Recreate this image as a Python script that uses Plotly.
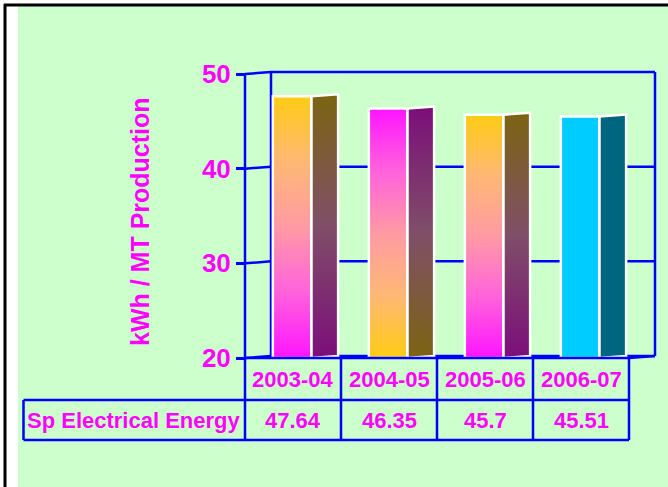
import plotly.graph_objects as go

# ---- data -------------------------------------------------------------
years = ["2003-04", "2004-05", "2005-06", "2006-07"]
energy = [47.64, 46.35, 45.7, 45.51]
row_label = "Sp Electrical Energy"
y_title = "kWh / MT Production"
y_ticks = [20, 30, 40, 50]

# ---- colours ----------------------------------------------------------
MAGENTA = "#FF00FF"
BLUE = "#0000FF"
GREEN_BG = "#CCFFCC"
FONT = "Liberation Sans, Arial, sans-serif"

# vertical gradients, listed bottom -> top
warm_up = [[0, "#FF14FF"], [0.25, "#FF62DC"], [0.5, "#FF9AA4"], [0.75, "#FFB874"], [1, "#FFCC14"]]
warm_down = [[1 - p, c] for p, c in reversed(warm_up)]
side_up = [[0, "#7C0E7A"], [0.5, "#7F4E68"], [1, "#7C6412"]]
side_down = [[1 - p, c] for p, c in reversed(side_up)]
cyan = [[0, "#00CCFF"], [1, "#00CCFF"]]
teal = [[0, "#006680"], [1, "#006680"]]
front_scales = [warm_up, warm_down, warm_up, cyan]
side_scales = [side_up, side_down, side_up, teal]

# ---- geometry ---------------------------------------------------------
W, H = 668, 487
AX_LEFT = 245          # pixel x of the front value axis
COL_W = 96             # pixel width of one category column
Y_LO, Y_HI = 20, 50
PX_LO, PX_HI = 358, 74  # pixel y of Y_LO / Y_HI on the front plane
ppu = (PX_LO - PX_HI) / (Y_HI - Y_LO)


def xd(px):
    return (px - AX_LEFT) / COL_W


def yd(py):
    return Y_LO + (PX_LO - py) / ppu


DX = 26 / COL_W   # depth offset of the back wall
DY = 2 / ppu
n = len(years)
X_BACK = n + DX

fig = go.Figure()

# ---- 3D bars ----------------------------------------------------------
F0, F1, S1 = 0.29, 0.69, 0.97
for i, v in enumerate(energy):
    fx = [i + F0, i + F1, i + F1, i + F0, i + F0]
    fy = [Y_LO, Y_LO, v, v, Y_LO]
    sx = [i + F1, i + S1, i + S1, i + F1, i + F1]
    sy = [Y_LO, Y_LO + DY, v + DY, v, Y_LO]
    fig.add_trace(go.Scatter(
        x=sx, y=sy, mode="lines", fill="toself",
        fillgradient=dict(type="vertical", colorscale=side_scales[i], start=Y_LO, stop=v + DY),
        line=dict(color="white", width=2.5), hoverinfo="skip", showlegend=False))
    fig.add_trace(go.Scatter(
        x=fx, y=fy, mode="lines", fill="toself",
        fillgradient=dict(type="vertical", colorscale=front_scales[i], start=Y_LO, stop=v),
        line=dict(color="white", width=2.5), hoverinfo="skip", showlegend=False))

shapes = []

# ---- background and frame --------------------------------------------
shapes.append(dict(type="rect", xref="paper", yref="paper", x0=18 / W, x1=1, y0=0, y1=1 - 6 / H,
                   fillcolor=GREEN_BG, line=dict(width=0), layer="below"))
shapes.append(dict(type="line", xref="paper", yref="paper", x0=4 / W, x1=1, y0=1 - 5 / H, y1=1 - 5 / H,
                   line=dict(color="black", width=3), layer="below"))
shapes.append(dict(type="line", xref="paper", yref="paper", x0=5 / W, x1=5 / W, y0=0, y1=1 - 4 / H,
                   line=dict(color="black", width=3), layer="below"))

grid_line = dict(color=BLUE, width=2.5)

# ---- back wall and gridlines -----------------------------------------
for t in y_ticks:
    shapes.append(dict(type="path", xref="x", yref="y",
                       path=f"M 0,{t} L {DX},{t + DY} L {X_BACK},{t + DY}",
                       line=grid_line, layer="below"))
shapes.append(dict(type="line", xref="x", yref="y", x0=DX, x1=DX, y0=Y_LO + DY, y1=Y_HI + DY,
                   line=grid_line, layer="below"))
shapes.append(dict(type="line", xref="x", yref="y", x0=X_BACK, x1=X_BACK, y0=Y_LO + DY, y1=Y_HI + DY,
                   line=grid_line, layer="below"))
shapes.append(dict(type="line", xref="x", yref="y", x0=n, x1=X_BACK, y0=Y_LO, y1=Y_LO + DY,
                   line=grid_line, layer="below"))
# front value axis
shapes.append(dict(type="line", xref="x", yref="y", x0=0, x1=0, y0=Y_LO, y1=Y_HI,
                   line=grid_line, layer="above"))

# ---- data table -------------------------------------------------------
row1_bot = yd(400)
row2_bot = yd(440)
label_left = xd(23.5)
table_line = dict(color=BLUE, width=2.5)
shapes.append(dict(type="line", xref="x", yref="y", x0=0, x1=n, y0=Y_LO, y1=Y_LO, line=table_line, layer="above"))
shapes.append(dict(type="line", xref="x", yref="y", x0=label_left, x1=n, y0=row1_bot, y1=row1_bot, line=table_line, layer="above"))
shapes.append(dict(type="line", xref="x", yref="y", x0=label_left, x1=n, y0=row2_bot, y1=row2_bot, line=table_line, layer="above"))
shapes.append(dict(type="line", xref="x", yref="y", x0=label_left, x1=label_left, y0=row1_bot, y1=row2_bot, line=table_line, layer="above"))
for k in range(n + 1):
    shapes.append(dict(type="line", xref="x", yref="y", x0=k, x1=k, y0=Y_LO, y1=row2_bot, line=table_line, layer="above"))

annotations = []
cell_font = dict(family=FONT, size=22, color=MAGENTA, weight="bold")
row1_mid = (Y_LO + row1_bot) / 2
row2_mid = (row1_bot + row2_bot) / 2
for i, (yr, v) in enumerate(zip(years, energy)):
    annotations.append(dict(x=i + 0.5, y=row1_mid, xref="x", yref="y", text=yr, showarrow=False,
                            font=cell_font, xanchor="center", yanchor="middle"))
    annotations.append(dict(x=i + 0.5, y=row2_mid, xref="x", yref="y", text=f"{v:g}", showarrow=False,
                            font=cell_font, xanchor="center", yanchor="middle"))
annotations.append(dict(x=label_left / 2, y=row2_mid, xref="x", yref="y", text=row_label, showarrow=False,
                        font=cell_font, xanchor="center", yanchor="middle"))

# axis title
annotations.append(dict(x=140 / W, y=1 - 222 / H, xref="paper", yref="paper", text=y_title,
                        textangle=-90, showarrow=False,
                        font=dict(family=FONT, size=25, color=MAGENTA, weight="bold"),
                        xanchor="center", yanchor="middle"))

fig.update_layout(
    width=W, height=H,
    margin=dict(l=0, r=0, t=0, b=0, pad=0),
    paper_bgcolor="white",
    plot_bgcolor="rgba(0,0,0,0)",
    shapes=shapes,
    annotations=annotations,
    showlegend=False,
    xaxis=dict(domain=[0, 1], range=[xd(0), xd(W)], visible=False, fixedrange=True),
    yaxis=dict(domain=[0, 1], range=[yd(H), yd(0)], anchor="free", position=AX_LEFT / W,
               tickvals=y_ticks, ticks="outside", ticklen=9, tickwidth=2.5, tickcolor=BLUE,
               showgrid=False, zeroline=False, showline=False,
               tickfont=dict(family=FONT, size=26, color=MAGENTA, weight="bold"),
               fixedrange=True),
)

fig.write_html("out.html")
